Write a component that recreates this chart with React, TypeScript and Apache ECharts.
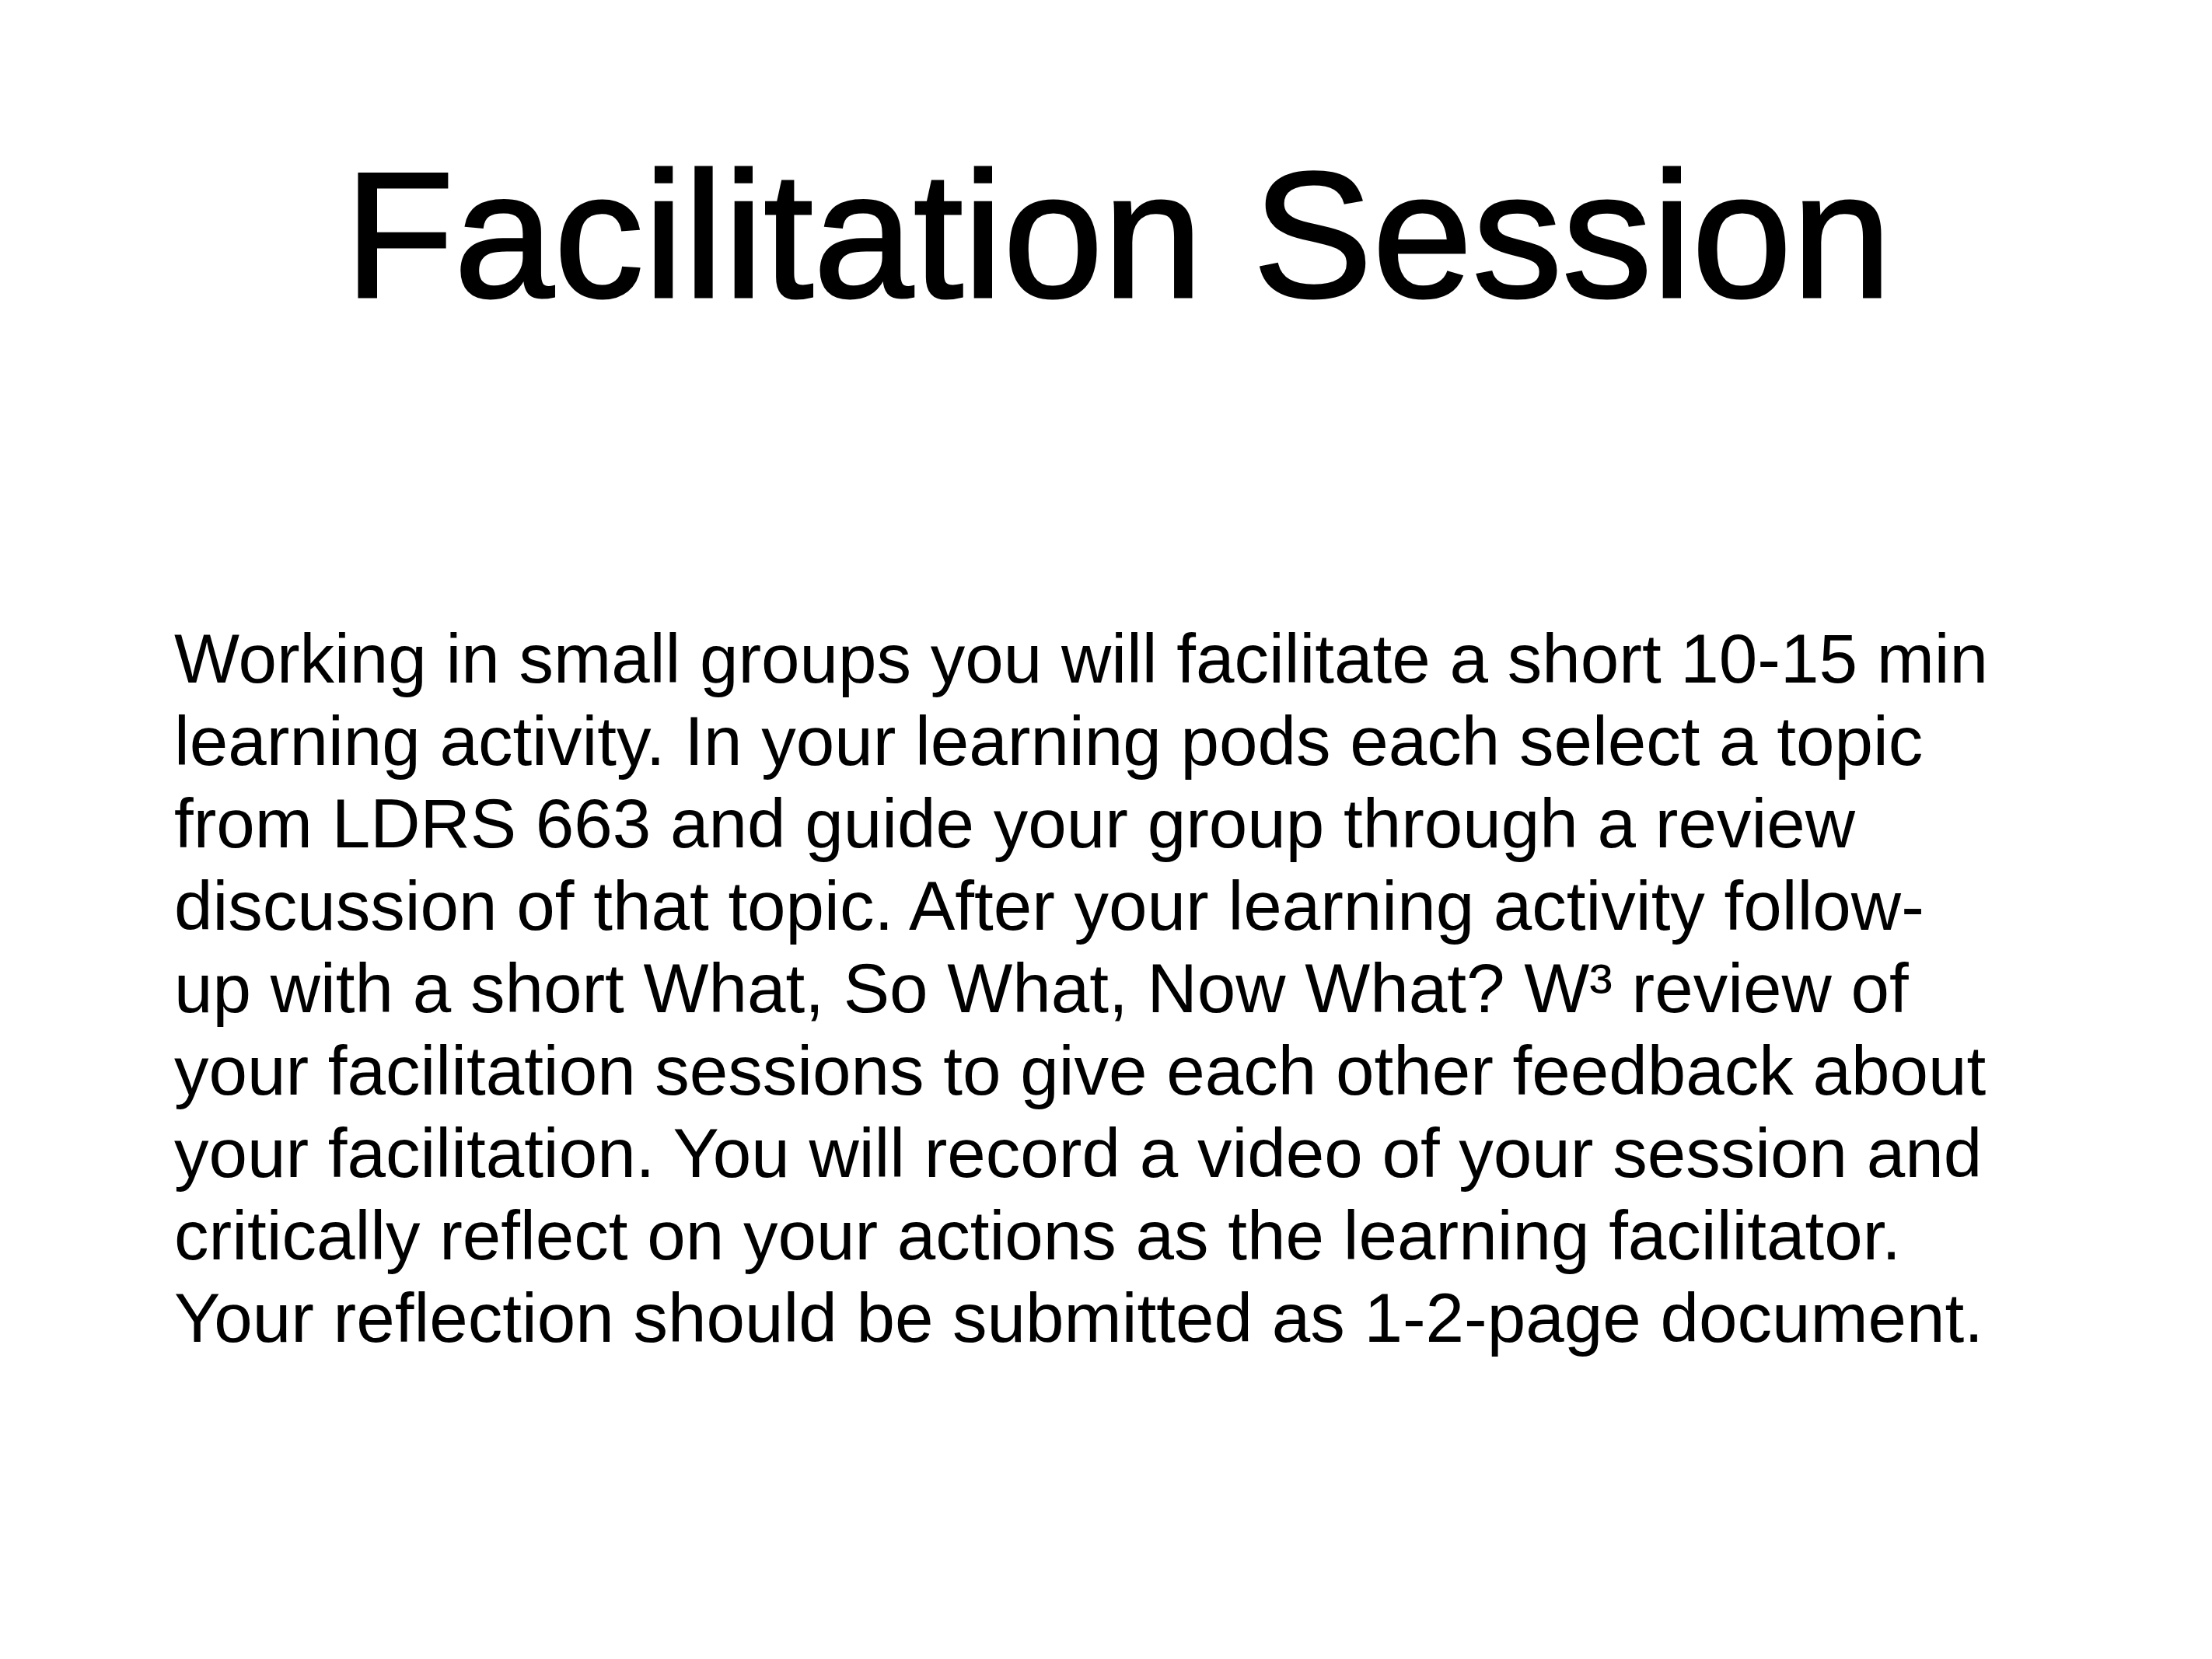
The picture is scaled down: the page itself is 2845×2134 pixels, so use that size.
import { useEffect, useRef } from 'react'
import * as echarts from 'echarts'

const title = 'Facilitation Session'

const bodyLines = [
  'Working in small groups you will facilitate a short 10-15 min',
  'learning activity. In your learning pods each select a topic',
  'from LDRS 663 and guide your group through a review',
  'discussion of that topic. After your learning activity follow-',
  'up with a short What, So What, Now What? W³ review of',
  'your facilitation sessions to give each other feedback about',
  'your facilitation. You will record a video of your session and',
  'critically reflect on your actions as the learning facilitator.',
  'Your reflection should be submitted as 1-2-page document.',
]

export default function App() {
  const chartRef = useRef<HTMLDivElement>(null)

  useEffect(() => {
    if (!chartRef.current) return
    const chart = echarts.init(chartRef.current, undefined, { renderer: 'svg' })

    const font = '"Liberation Sans", Arial, Helvetica, sans-serif'

    chart.setOption({
      animation: false,
      backgroundColor: '#ffffff',
      graphic: [
        {
          type: 'text',
          x: 1438,
          y: 302,
          style: {
            text: title,
            font: `231px ${font}`,
            fill: '#000',
            stroke: '#000',
            lineWidth: 3,
            align: 'center',
            verticalAlign: 'middle',
          },
        },
        ...bodyLines.map((line, i) => ({
          type: 'text',
          x: 224,
          y: 847 + i * 106,
          style: {
            text: line,
            font: `89px ${font}`,
            fill: '#000',
            align: 'left',
            verticalAlign: 'middle',
          },
        })),
      ],
    })

    return () => chart.dispose()
  }, [])

  return (
    <div
      ref={chartRef}
      style={{ position: 'fixed', left: 0, top: 0, width: '2845px', height: '2134px' }}
    />
  )
}
